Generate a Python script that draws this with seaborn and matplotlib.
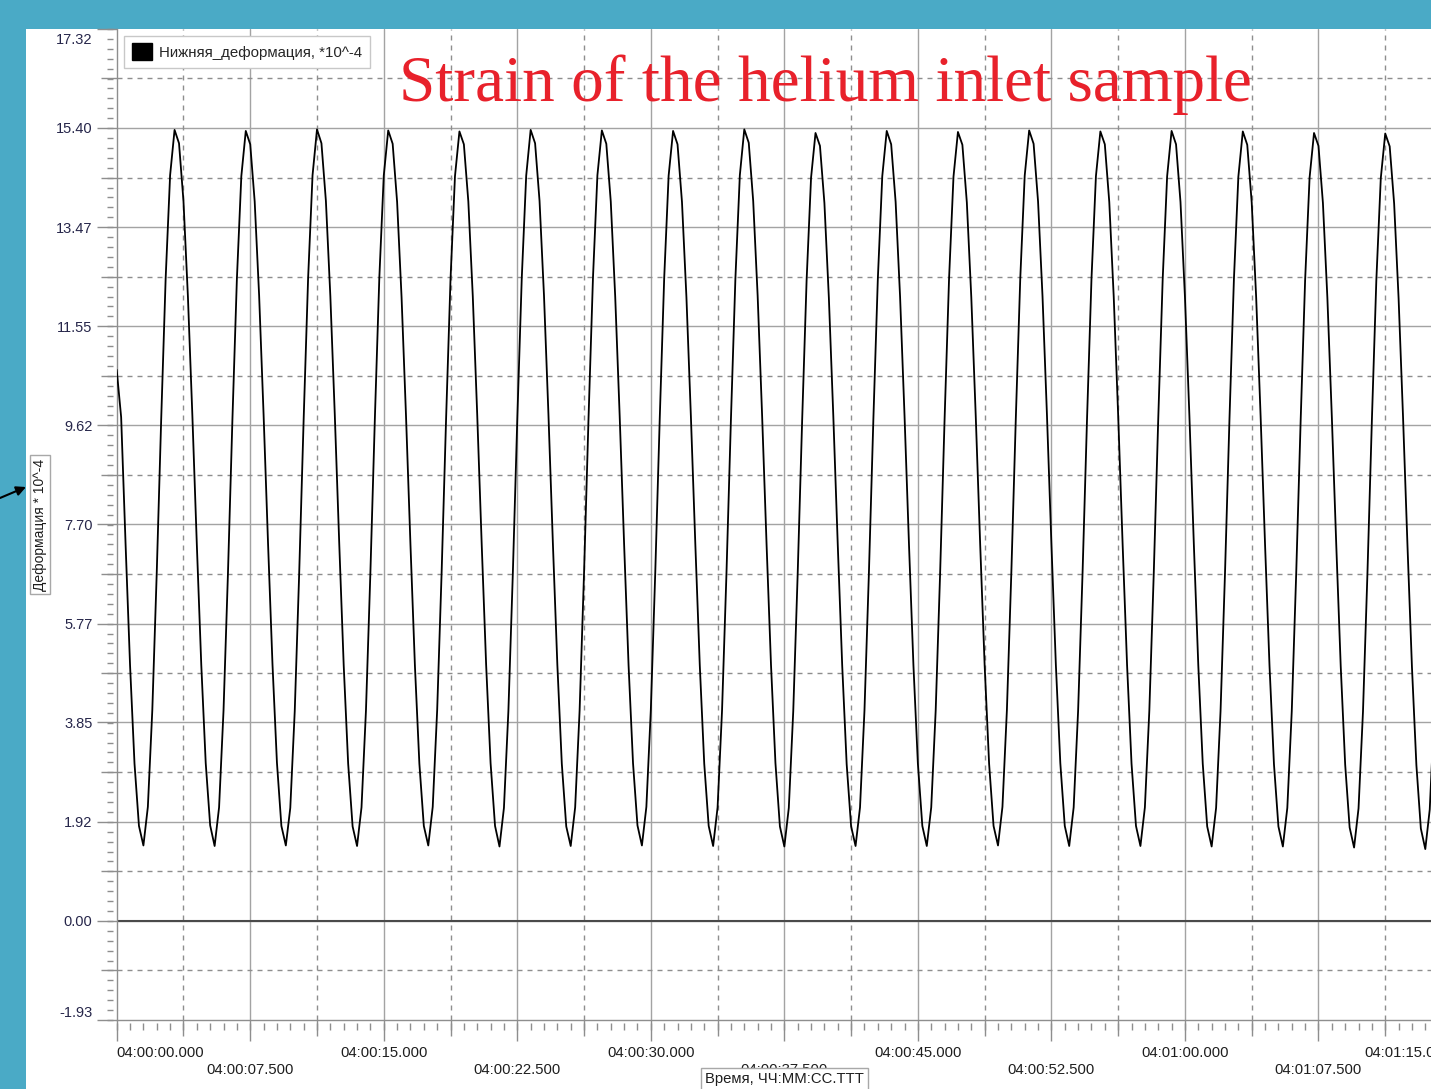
import numpy as np
import pandas as pd
import seaborn as sns
import matplotlib.pyplot as plt
from matplotlib.patches import Patch, Rectangle, FancyArrowPatch
from matplotlib.transforms import ScaledTranslation

sns.set_style("white")
plt.rcParams['font.family'] = ['Liberation Sans', 'DejaVu Sans']

# Strain readings (*10^-4), one every 0.25 s starting at 04:00:00.000
sample_step = 0.25
strain = [
    10.70, 9.78, 7.30, 4.96, 3.05, 1.84, 1.46, 2.21, 4.09, 6.77, 9.75, 12.48, 14.48, 15.36, 15.10, 13.98,
    12.12, 9.81, 7.31, 4.97, 3.06, 1.85, 1.45, 2.20, 4.08, 6.76, 9.74, 12.46, 14.46, 15.34, 15.08, 13.97,
    12.14, 9.83, 7.33, 4.98, 3.07, 1.84, 1.46, 2.19, 4.07, 6.75, 9.73, 12.47, 14.48, 15.37, 15.10, 13.98,
    12.13, 9.82, 7.32, 4.96, 3.05, 1.83, 1.45, 2.20, 4.08, 6.77, 9.75, 12.48, 14.47, 15.35, 15.09, 13.96,
    12.11, 9.80, 7.30, 4.95, 3.05, 1.84, 1.46, 2.21, 4.09, 6.76, 9.74, 12.46, 14.46, 15.33, 15.08, 13.97,
    12.13, 9.82, 7.32, 4.97, 3.06, 1.84, 1.44, 2.19, 4.07, 6.75, 9.74, 12.47, 14.47, 15.36, 15.10, 13.98,
    12.14, 9.83, 7.32, 4.97, 3.05, 1.83, 1.45, 2.20, 4.08, 6.76, 9.75, 12.48, 14.48, 15.35, 15.09, 13.97,
    12.12, 9.81, 7.31, 4.96, 3.06, 1.85, 1.46, 2.21, 4.09, 6.77, 9.74, 12.47, 14.47, 15.34, 15.08, 13.96,
    12.11, 9.80, 7.31, 4.96, 3.05, 1.84, 1.45, 2.20, 4.08, 6.76, 9.74, 12.47, 14.48, 15.37, 15.11, 13.98,
    12.14, 9.82, 7.32, 4.97, 3.06, 1.83, 1.44, 2.19, 4.07, 6.75, 9.72, 12.44, 14.43, 15.30, 15.05, 13.94,
    12.10, 9.80, 7.30, 4.95, 3.04, 1.83, 1.45, 2.20, 4.08, 6.76, 9.74, 12.46, 14.46, 15.34, 15.08, 13.96,
    12.12, 9.81, 7.31, 4.96, 3.05, 1.84, 1.45, 2.20, 4.08, 6.76, 9.74, 12.46, 14.45, 15.32, 15.07, 13.95,
    12.11, 9.80, 7.30, 4.96, 3.05, 1.84, 1.46, 2.21, 4.09, 6.77, 9.75, 12.47, 14.47, 15.35, 15.09, 13.97,
    12.13, 9.82, 7.32, 4.97, 3.06, 1.84, 1.45, 2.20, 4.08, 6.76, 9.74, 12.46, 14.46, 15.33, 15.08, 13.96,
    12.12, 9.81, 7.31, 4.96, 3.05, 1.84, 1.45, 2.20, 4.08, 6.76, 9.74, 12.46, 14.46, 15.34, 15.08, 13.96,
    12.12, 9.81, 7.31, 4.96, 3.05, 1.83, 1.44, 2.19, 4.07, 6.75, 9.73, 12.45, 14.45, 15.33, 15.07, 13.95,
    12.11, 9.80, 7.30, 4.95, 3.04, 1.83, 1.44, 2.19, 4.07, 6.75, 9.72, 12.44, 14.43, 15.30, 15.05, 13.94,
    12.10, 9.79, 7.29, 4.94, 3.03, 1.81, 1.42, 2.18, 4.06, 6.74, 9.72, 12.44, 14.42, 15.29, 15.04, 13.93,
    12.09, 9.78, 7.28, 4.93, 3.02, 1.79, 1.39, 2.16, 4.05,
]

y_tick_labels = ['-1.93', '0.00', '1.92', '3.85', '5.77', '7.70',
                 '9.62', '11.55', '13.47', '15.40', '17.32']
x_tick_seconds = [0, 7.5, 15, 22.5, 30, 37.5, 45, 52.5, 60, 67.5, 75]
x_tick_labels = ['04:00:00.000', '04:00:07.500', '04:00:15.000', '04:00:22.500',
                 '04:00:30.000', '04:00:37.500', '04:00:45.000', '04:00:52.500',
                 '04:01:00.000', '04:01:07.500', '04:01:15.000']

series_name = 'Нижняя_деформация, *10^-4'
y_title = 'Деформация * 10^-4'
x_title = 'Время, ЧЧ:ММ:СС.ТТТ'
chart_title = 'Strain of the helium inlet sample'

df = pd.DataFrame({'t': np.arange(len(strain)) * sample_step, 'strain': strain})

W, H = 1431, 1089
fig = plt.figure(figsize=(W / 100, H / 100), dpi=100, facecolor='#4aaac6')
fig.add_artist(Rectangle((26 / W, 0), 1, 1 - 29 / H, transform=fig.transFigure,
                         facecolor='white', edgecolor='none', zorder=-1))

# axes run past the right edge of the figure (screenshot is cropped)
ax_w_px, ax_h_px = 1335.3, 991
ax = fig.add_axes([116.7 / W, (H - 1020) / H, ax_w_px / W, ax_h_px / H])
ax.set_facecolor('white')

sns.lineplot(data=df, x='t', y='strain', ax=ax, color='black', lw=1.3, zorder=4)
ax.set_xlim(0, 75)
ax.set_ylim(-1.93, 17.32)

grid_c = '#a3a3a3'
dash_c = '#8e8e8e'
tick_c = '#8e8e8e'
y_major = [float(v) for v in y_tick_labels]
y_half = [(a + b) / 2 for a, b in zip(y_major[:-1], y_major[1:])]
x_half = [(a + b) / 2 for a, b in zip(x_tick_seconds[:-1], x_tick_seconds[1:])]

for v in y_major[1:-1]:
    ax.axhline(v, color=grid_c, lw=1.0, zorder=1)
for v in x_tick_seconds[1:]:
    ax.axvline(v, color=grid_c, lw=1.0, zorder=1)
for v in y_half:
    ax.axhline(v, color=dash_c, lw=1.0, ls=(0, (3.6, 3.6)), zorder=1)
for v in x_half:
    ax.axvline(v, color=dash_c, lw=1.0, ls=(0, (3.6, 3.6)), zorder=1)
ax.axhline(0, color='#4a4a4a', lw=1.5, zorder=2)

for s in ['top', 'right']:
    ax.spines[s].set_visible(False)
for s in ['left', 'bottom']:
    ax.spines[s].set_color(tick_c)
    ax.spines[s].set_linewidth(1.0)

ax.set_yticks(y_major, labels=y_tick_labels)
ax.set_yticks(y_half, minor=True)
stacked = [lab if i % 2 == 0 else '\n' + lab for i, lab in enumerate(x_tick_labels)]
ax.set_xticks(x_tick_seconds, labels=stacked)
ax.set_xticks(x_half, minor=True)

ax.tick_params(axis='y', which='major', left=True, length=14.4, width=1, color=tick_c,
               pad=3, labelsize=10.5, labelcolor='#26264a')
ax.tick_params(axis='y', which='minor', left=True, length=11.5, width=1, color=tick_c)
ax.tick_params(axis='x', which='major', bottom=True, length=15, width=1, color=tick_c,
               pad=3.5, labelsize=10.7, labelcolor='#1e1e1e')
ax.tick_params(axis='x', which='minor', bottom=True, length=11.5, width=1, color=tick_c)

ylabs = ax.get_yticklabels()
ylabs[0].set_va('bottom')
ylabs[-1].set_va('top')
ylabs[-1].set_transform(ylabs[-1].get_transform()
                        + ScaledTranslation(0, -3 / 72, fig.dpi_scale_trans))
xlabs = ax.get_xticklabels()
for lab in xlabs:
    lab.set_linespacing(1.3)
xlabs[0].set_ha('left')
xlabs[-1].set_ha('right')

# fine ticks, detached a little from the axis lines
sy = ax.secondary_yaxis(-3.7 / ax_w_px)
sy.set_yticks(np.linspace(-1.93, 17.32, 101))
sy.tick_params(axis='y', which='major', left=True, length=4.3, width=1, color=tick_c,
               labelleft=False)
sy.spines['left'].set_visible(False)

sx = ax.secondary_xaxis(-3.0 / ax_h_px)
sx.set_xticks(np.linspace(0, 75, 101))
sx.tick_params(axis='x', which='major', bottom=True, length=5, width=1, color=tick_c,
               labelbottom=False)
sx.spines['bottom'].set_visible(False)

box = dict(boxstyle='square,pad=0.25', fc='white', ec='#a8a8a8', lw=1)
ax.set_xlabel(x_title, fontsize=10.7, color='#1e1e1e', bbox=box)
ax.xaxis.set_label_coords(0.5, -52 / ax_h_px)
ax.xaxis.label.set_va('top')
ax.set_ylabel(y_title, fontsize=10, color='#1e1e1e', bbox=box)
ax.yaxis.set_label_coords(-76.7 / ax_w_px, 0.5)
ax.yaxis.label.set_va('center')

leg = ax.legend([Patch(facecolor='black', edgecolor='black')], [series_name],
                loc='upper left', bbox_to_anchor=(7.3 / ax_w_px, 1 - 7 / ax_h_px),
                fontsize=10.8, frameon=True, fancybox=False, framealpha=1,
                edgecolor='#c8c8c8', borderpad=0.5, handlelength=1.35,
                handleheight=1.35, handletextpad=0.5, borderaxespad=0)
leg.get_frame().set_linewidth(1.0)

fig.text(825 / W, 1 - 101 / H, chart_title, color='#e8212b', fontsize=47,
         family=['Liberation Serif', 'DejaVu Serif'], ha='center', va='baseline')

fig.add_artist(FancyArrowPatch((0, (H - 498) / H), (26 / W, (H - 487) / H),
                               transform=fig.transFigure, arrowstyle='-|>',
                               mutation_scale=14, color='black', lw=1.5,
                               shrinkA=0, shrinkB=0))

fig.savefig('out.png', dpi=100, facecolor=fig.get_facecolor())
